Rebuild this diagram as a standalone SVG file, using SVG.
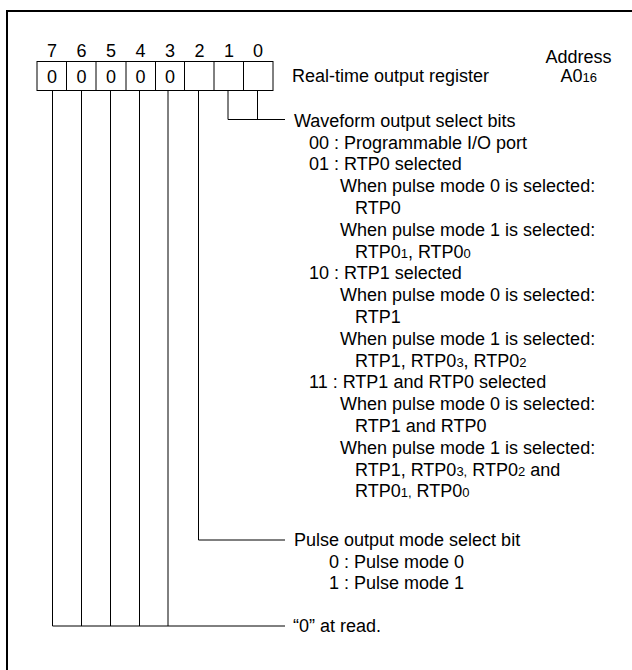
<svg xmlns="http://www.w3.org/2000/svg" width="632" height="670" viewBox="0 0 632 670">
<style>
text{font-family:"Liberation Sans",Arial,sans-serif;font-size:18px;fill:#000}
.s{font-size:13px}
.c{text-anchor:middle}
.ln{stroke:#000;stroke-width:1;fill:none}
.cell{stroke:#000;stroke-width:1;fill:#fff}
</style>
<rect x="7" y="11" width="640" height="680" fill="#fff" stroke="#000" stroke-width="2"/>
<g id="register">
<rect class="cell" x="37" y="61.5" width="236" height="29"/>
<path class="ln" d="M66.5 61.5V90.5M96 61.5V90.5M126 61.5V90.5M155.5 61.5V90.5M184.5 61.5V90.5M214 61.5V90.5M243.5 61.5V90.5"/>
<g class="c">
<text x="52" y="57">7</text><text x="81.5" y="57">6</text><text x="111" y="57">5</text><text x="140.5" y="57">4</text><text x="170" y="57">3</text><text x="199.5" y="57">2</text><text x="229" y="57">1</text><text x="258" y="57">0</text>
<text x="52" y="83">0</text><text x="81.5" y="83">0</text><text x="111" y="83">0</text><text x="140.5" y="83">0</text><text x="170" y="83">0</text>
</g>
<text x="292" y="82.3">Real-time output register</text>
<text x="545.5" y="63.3">Address</text>
<text x="560.5" y="82.3">A0<tspan class="s">16</tspan></text>
</g>
<g id="connectors">
<path class="ln" d="M228 90.5V119.5H285M257.5 90.5V119.5"/>
<path class="ln" d="M198.5 90.5V540H285"/>
<path class="ln" d="M52.5 90.5V626H285M81.5 90.5V626M110.5 90.5V626M139.5 90.5V626M168 90.5V626"/>
</g>
<g id="waveform">
<text x="294" y="126.7">Waveform output select bits</text>
<text x="309" y="148.5">00 : Programmable I/O port</text>
<text x="309" y="170.3">01 : RTP0 selected</text>
<text x="340" y="192.1">When pulse mode 0 is selected:</text>
<text x="355" y="213.9">RTP0</text>
<text x="340" y="235.7">When pulse mode 1 is selected:</text>
<text x="355" y="257.5">RTP0<tspan class="s">1</tspan>, RTP0<tspan class="s">0</tspan></text>
<text x="309" y="279.3">10 : RTP1 selected</text>
<text x="340" y="301.1">When pulse mode 0 is selected:</text>
<text x="355" y="322.9">RTP1</text>
<text x="340" y="344.7">When pulse mode 1 is selected:</text>
<text x="355" y="366.5">RTP1, RTP0<tspan class="s">3</tspan>, RTP0<tspan class="s">2</tspan></text>
<text x="309" y="388.3">11 : RTP1 and RTP0 selected</text>
<text x="340" y="410.1">When pulse mode 0 is selected:</text>
<text x="355" y="431.9">RTP1 and RTP0</text>
<text x="340" y="453.7">When pulse mode 1 is selected:</text>
<text x="355" y="475.5">RTP1, RTP0<tspan class="s">3,</tspan> RTP0<tspan class="s">2</tspan> and</text>
<text x="355" y="497.3">RTP0<tspan class="s">1,</tspan> RTP0<tspan class="s">0</tspan></text>
</g>
<g id="pulse">
<text x="294" y="546">Pulse output mode select bit</text>
<text x="329" y="567.5">0 : Pulse mode 0</text>
<text x="329" y="589">1 : Pulse mode 1</text>
</g>
<g id="read">
<text x="293" y="631.7">“0” at read.</text>
</g>
</svg>
